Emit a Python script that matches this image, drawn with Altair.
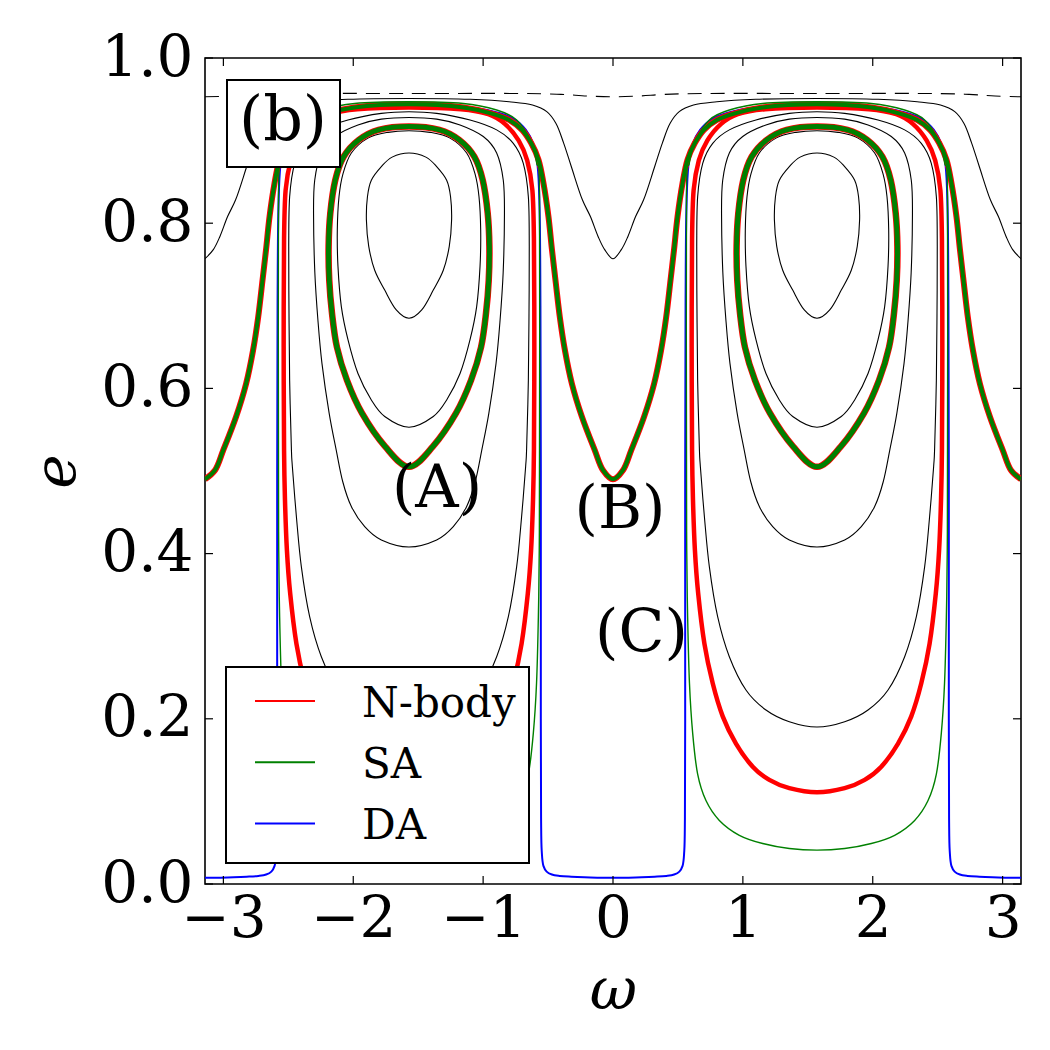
import math
import altair as alt
import pandas as pd

PI = math.pi
HALF = PI / 2

# ---------------- data ----------------
# Closed loops around the libration centres (omega = +-pi/2):
# (offset from the centre, e), from the bottom of the loop up one side to its top.
L1_OFF = [0.0, 0.098, 0.187, 0.264, 0.31, 0.328, 0.32, 0.29, 0.213, 0.13, 0.0]
L1_E = [0.685, 0.695, 0.719, 0.743, 0.772, 0.804, 0.832, 0.852, 0.8685, 0.880, 0.885]

L2_OFF = [0.0, 0.187, 0.29, 0.393, 0.47, 0.521, 0.547, 0.552, 0.539, 0.508, 0.444, 0.316, 0.162, 0.0]
L2_E = [0.553, 0.566, 0.586, 0.618, 0.659, 0.699, 0.748, 0.792, 0.832, 0.860, 0.885, 0.903, 0.910, 0.912]

L3_OFF = [0.0, 0.213, 0.341, 0.444, 0.51, 0.56, 0.615, 0.67, 0.70, 0.725, 0.735, 0.726, 0.675, 0.572, 0.393, 0.213, 0.0]
L3_E = [0.408, 0.4165, 0.4326, 0.457, 0.487, 0.525, 0.57, 0.63, 0.68, 0.74, 0.812, 0.852, 0.885, 0.905, 0.919, 0.926, 0.928]

L4_OFF = [0.0, 0.213, 0.393, 0.547, 0.675, 0.765, 0.829, 0.867, 0.898, 0.906, 0.919, 0.924, 0.926, 0.919, 0.88, 0.803, 0.675, 0.47, 0.213, 0.0]
L4_E = [0.190, 0.1965, 0.2107, 0.2349, 0.2752, 0.3236, 0.3842, 0.4447, 0.5052, 0.529, 0.61, 0.691, 0.772, 0.832, 0.8725, 0.8967, 0.913, 0.925, 0.933, 0.935]

# thick red/green libration loop
LIB_OFF = [0.0, 0.183, 0.362, 0.478, 0.555, 0.593, 0.614, 0.619, 0.606, 0.568, 0.503, 0.388, 0.234, 0.0]
LIB_E = [0.505, 0.5295, 0.570, 0.610, 0.650, 0.691, 0.731, 0.772, 0.812, 0.852, 0.8805, 0.9007, 0.913, 0.917]

# N-body large loop
NB_OFF = [0.0, 0.213, 0.367, 0.495, 0.624, 0.726, 0.803, 0.867, 0.915, 0.94, 0.955, 0.962, 0.965, 0.962, 0.95, 0.91, 0.845, 0.74, 0.61, 0.40, 0.0]
NB_E = [0.111, 0.116, 0.126, 0.142, 0.170, 0.203, 0.243, 0.291, 0.352, 0.404, 0.465, 0.525, 0.65, 0.78, 0.840, 0.876, 0.900, 0.920, 0.932, 0.938, 0.940]

# SA large loop
SA_OFF = [0.0, 0.213, 0.418, 0.598, 0.752, 0.855, 0.919, 0.957, 0.982, 0.996, 1.003, 1.005, 1.005, 0.983, 0.93, 0.829, 0.675, 0.418, 0.0]
SA_E = [0.041, 0.043, 0.049, 0.059, 0.077, 0.101, 0.133, 0.182, 0.243, 0.323, 0.404, 0.525, 0.832, 0.873, 0.901, 0.925, 0.937, 0.945, 0.947]

# DA curve: (offset from libration centre, e), from the top down to the circulation minimum
DA_OFF = [0.0, 0.35, 0.6, 0.8, 0.9, 0.96, 0.99, 1.005, 1.012, 1.015, 1.015, 1.017, 1.022, 1.035, 1.06, 1.10, 1.16, 1.25, 1.35, 1.45, 1.5708]
DA_E = [0.944, 0.942, 0.937, 0.927, 0.913, 0.895, 0.87, 0.82, 0.70, 0.50, 0.20, 0.08, 0.04, 0.022, 0.015, 0.0115, 0.0098, 0.0088, 0.0081, 0.0077, 0.0075]

# Circulating curves: (distance from omega = 0 / +-pi, e)
TOP_D = [0.0, 0.2, 0.4, 0.7, 1.5708]
TOP_E = [0.953, 0.954, 0.956, 0.957, 0.957]
CIRC1_D = [0.0, 0.064, 0.115, 0.174, 0.235, 0.32, 0.38, 0.44, 0.51, 0.62, 0.8, 1.1, 1.5708]
CIRC1_E = [0.757, 0.768, 0.784, 0.808, 0.828, 0.868, 0.897, 0.921, 0.935, 0.943, 0.947, 0.950, 0.951]
CIRC2_D = [0.0, 0.077, 0.14, 0.24, 0.317, 0.37, 0.41, 0.44, 0.47, 0.497, 0.535, 0.574, 0.63, 0.70, 0.80, 0.94, 1.15, 1.5708]
CIRC2_E = [0.490, 0.501, 0.525, 0.566, 0.606, 0.646, 0.687, 0.727, 0.768, 0.808, 0.848, 0.877, 0.897, 0.913, 0.925, 0.933, 0.940, 0.944]

X_TICKS = [-3, -2, -1, 0, 1, 2, 3]
Y_TICKS = [0.0, 0.2, 0.4, 0.6, 0.8, 1.0]
LEGEND_LABELS = ["N-body", "SA", "DA"]
LEGEND_COLORS = ["#ff0000", "#008000", "#0000ff"]
NOTE_TEXT = ["(A)", "(B)", "(C)"]
NOTE_W = [-1.355, 0.054, 0.219]
NOTE_E = [0.456, 0.431, 0.281]
PANEL_TAG = "(b)"


# ---------------- build tables ----------------
def loop(center, off, e):
    # closed ring without repeated points (drawn with a closed spline)
    right = [(center + o, v) for o, v in zip(off, e)]
    left = [(center - o, v) for o, v in zip(off[-2:0:-1], e[-2:0:-1])]
    return right + left


def periodic(d, e):
    # d measured from omega = 0 / +-pi, d runs 0 -> pi/2
    pts = [(-PI + a, v) for a, v in zip(d, e)]
    pts += [(-a, v) for a, v in zip(d[-2::-1], e[-2::-1])]
    pts += [(a, v) for a, v in zip(d[1:], e[1:])]
    pts += [(PI - a, v) for a, v in zip(d[-2::-1], e[-2::-1])]
    return pts


tables = {}


def add(group, name, pts):
    rows = tables.setdefault(group, [])
    for i, (w, v) in enumerate(pts):
        rows.append({"curve": name, "i": i, "w": w, "e": v})


for k, c in enumerate([-HALF, HALF]):
    for nm, off, ee in [("L1", L1_OFF, L1_E), ("L2", L2_OFF, L2_E),
                        ("L3", L3_OFF, L3_E), ("L4", L4_OFF, L4_E)]:
        add("black_loops", f"{nm}_{k}", loop(c, off, ee))
    add("lib", f"LIB_{k}", loop(c, LIB_OFF, LIB_E))
    add("nbody", f"NB_{k}", loop(c, NB_OFF, NB_E))
    add("sa", f"SA_{k}", loop(c, SA_OFF, SA_E))

add("top", "TOP", periodic(TOP_D, TOP_E))
add("circ1", "CIRC1", periodic(CIRC1_D, CIRC1_E))
add("circ2", "CIRC2", periodic(CIRC2_D, CIRC2_E))
da_d = [HALF - o for o in DA_OFF]
add("da", "DA", periodic(da_d[::-1], DA_E[::-1]))

W, H = 816, 826
FONT = "DejaVu Serif"

x_enc = alt.X(
    "w:Q",
    scale=alt.Scale(domain=[-PI, PI], nice=False, zero=False),
    axis=alt.Axis(values=X_TICKS, format="d", title="ω", ticks=False, domain=False,
                  grid=False, labelFont=FONT, labelFontSize=58, labelPadding=6,
                  labelColor="black", titleFont=FONT, titleFontSize=58,
                  titleFontStyle="italic", titleFontWeight="normal",
                  titlePadding=14, titleColor="black", labelFlush=False),
)
y_enc = alt.Y(
    "e:Q",
    scale=alt.Scale(domain=[0, 1], nice=False, zero=False),
    axis=alt.Axis(values=Y_TICKS, format=".1f", title="e", ticks=False, domain=False,
                  grid=False, labelFont=FONT, labelFontSize=58, labelPadding=12,
                  labelColor="black", titleFont=FONT, titleFontSize=58,
                  titleFontStyle="italic", titleFontWeight="normal",
                  titlePadding=14, titleColor="black", labelFlush=False),
)


def curves(group, closed, **mark):
    sub = pd.DataFrame(tables[group])
    interp = dict(interpolate="cardinal-closed", tension=0) if closed else dict(interpolate="catmull-rom")
    return alt.Chart(sub).mark_line(clip=True, **interp, **mark).encode(
        x=x_enc, y=y_enc, detail="curve:N", order="i:Q"
    )


layers = [
    curves("black_loops", True, color="black", strokeWidth=1.1),
    curves("circ1", False, color="black", strokeWidth=1.1),
    curves("top", False, color="black", strokeWidth=1.1, strokeDash=[14, 9]),
    curves("da", False, color="#0000ff", strokeWidth=2),
    curves("nbody", True, color="#ff0000", strokeWidth=4.5),
    curves("lib", True, color="#ff0000", strokeWidth=6.5),
    curves("circ2", False, color="#ff0000", strokeWidth=6),
    curves("lib", True, color="#008000", strokeWidth=5),
    curves("circ2", False, color="#008000", strokeWidth=4),
    curves("sa", True, color="#008000", strokeWidth=1.4),
]

# inward ticks on all four sides
xt = pd.DataFrame({"w": X_TICKS})
yt = pd.DataFrame({"e": Y_TICKS})
tick_style = dict(color="black", strokeWidth=1.2)
layers += [
    alt.Chart(xt).mark_rule(**tick_style).encode(x=x_enc, y=alt.value(H), y2=alt.value(H - 8)),
    alt.Chart(xt).mark_rule(**tick_style).encode(x=x_enc, y=alt.value(0), y2=alt.value(8)),
    alt.Chart(yt).mark_rule(**tick_style).encode(y=y_enc, x=alt.value(0), x2=alt.value(8)),
    alt.Chart(yt).mark_rule(**tick_style).encode(y=y_enc, x=alt.value(W), x2=alt.value(W - 8)),
]

layers.append(
    alt.Chart(pd.DataFrame({"w": NOTE_W, "e": NOTE_E, "t": NOTE_TEXT})).mark_text(
        font=FONT, fontSize=60, align="center", baseline="alphabetic", color="black"
    ).encode(x=x_enc, y=y_enc, text="t:N")
)

one = pd.DataFrame({"t": [PANEL_TAG]})
layers.append(
    alt.Chart(one).mark_rect(fill="white", stroke="black", strokeWidth=2).encode(
        x=alt.value(22), x2=alt.value(135), y=alt.value(22), y2=alt.value(109)
    )
)
layers.append(
    alt.Chart(one).mark_text(
        font=FONT, fontSize=62, align="center", baseline="alphabetic", color="black"
    ).encode(x=alt.value(78), y=alt.value(82), text="t:N")
)

# legend drawn by hand (matplotlib style box)
leg = pd.DataFrame({
    "label": LEGEND_LABELS,
    "col": LEGEND_COLORS,
    "row": list(range(len(LEGEND_LABELS))),
})
ROW0, STEP = 643, 61.3
leg["py"] = ROW0 + leg["row"] * STEP
leg["ty"] = leg["py"] + 15.5
layers += [
    alt.Chart(one).mark_rect(fill="white", stroke="black", strokeWidth=2).encode(
        x=alt.value(21), x2=alt.value(324), y=alt.value(609), y2=alt.value(805)
    ),
    alt.Chart(leg).mark_rule(strokeWidth=2).encode(
        x=alt.value(50), x2=alt.value(110),
        y=alt.Y("py:Q", scale=None, axis=None),
        color=alt.Color("col:N", scale=None),
    ),
    alt.Chart(leg).mark_text(
        font=FONT, fontSize=42, align="left", baseline="alphabetic", color="black"
    ).encode(
        x=alt.value(157), y=alt.Y("ty:Q", scale=None, axis=None), text="label:N"
    ),
]

chart = alt.layer(*layers).properties(
    width=W, height=H,
    autosize=alt.AutoSizeParams(type="none"),
    padding={"left": 205, "top": 58, "right": 29, "bottom": 166},
    background="white",
).configure_view(stroke="black", strokeWidth=1.6)

chart.save("out.html", embed_options={"renderer": "svg", "actions": False})
